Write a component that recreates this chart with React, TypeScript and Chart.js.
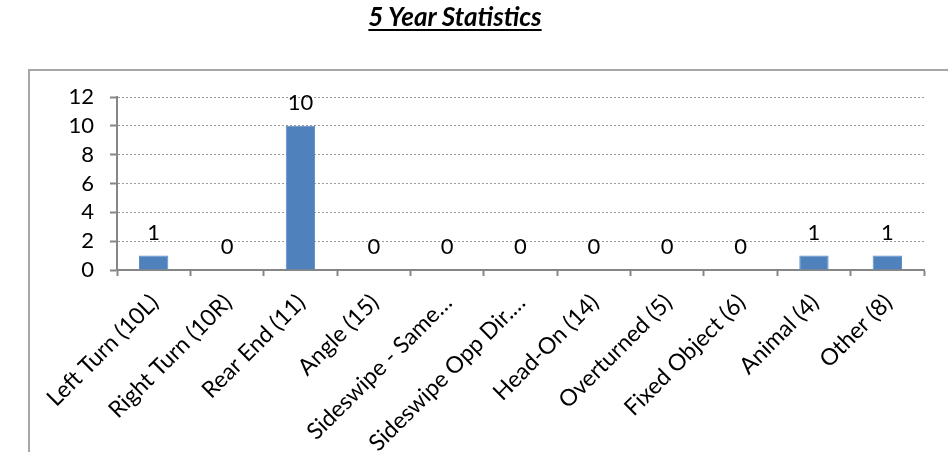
import React, { useEffect, useRef } from "react";
import { Chart, registerables } from "chart.js";

Chart.register(...registerables);

const titleText = "5 Year Statistics";
const categories = [
  "Left Turn (10L)",
  "Right Turn (10R)",
  "Rear End (11)",
  "Angle (15)",
  "Sideswipe - Same…",
  "Sideswipe Opp Dir.…",
  "Head-On (14)",
  "Overturned (5)",
  "Fixed Object (6)",
  "Animal (4)",
  "Other (8)",
];
const counts = [1, 0, 10, 0, 0, 0, 0, 0, 0, 1, 1];
const yMax = 12;
const yStep = 2;

const FONT = "Lato, 'Open Sans', sans-serif";

const valueLabels = {
  id: "valueLabels",
  afterDatasetsDraw(chart: any) {
    const ctx = chart.ctx;
    const meta = chart.getDatasetMeta(0);
    ctx.save();
    ctx.font = `22px ${FONT}`;
    ctx.fillStyle = "#000";
    ctx.textAlign = "center";
    ctx.textBaseline = "middle";
    meta.data.forEach((el: any, i: number) => {
      ctx.fillText(String(chart.data.datasets[0].data[i]), el.x, el.y - 23);
    });
    ctx.restore();
  },
};

export default function App() {
  const ref = useRef<HTMLCanvasElement | null>(null);
  useEffect(() => {
    if (!ref.current) return;
    const chart = new Chart(ref.current, {
      type: "bar",
      data: {
        labels: categories,
        datasets: [
          {
            data: counts,
            backgroundColor: "#4F81BD",
            borderColor: "#5B8CC6",
            borderWidth: 1,
            categoryPercentage: 1,
            barPercentage: 0.4,
          },
        ],
      },
      options: {
        animation: false,
        responsive: false,
        layout: { padding: { top: 97, right: 24, left: 0, bottom: 0 } },
        plugins: {
          legend: { display: false },
          title: { display: false },
          tooltip: { enabled: false },
        },
        scales: {
          x: {
            offset: true,
            grid: {
              display: true,
              drawOnChartArea: false,
              drawTicks: true,
              tickLength: 6,
              tickColor: "#868686",
              tickWidth: 2,
              offset: true,
            },
            border: { display: true, color: "#868686", width: 2 },
            ticks: {
              color: "#000",
              font: { family: FONT, size: 23 },
              maxRotation: 45,
              minRotation: 45,
              autoSkip: false,
              padding: 13,
              labelOffset: 1,
            },
            afterFit(scale: any) {
              scale.height = 182;
            },
          },
          y: {
            min: 0,
            max: yMax,
            ticks: {
              stepSize: yStep,
              autoSkip: false,
              color: "#000",
              font: { family: FONT, size: 22, lineHeight: 1 },
              padding: 16,
            },
            grid: {
              color: "#9a9a9a",
              lineWidth: 1,
              tickLength: 7,
              tickColor: "#868686",
              tickWidth: 2,
              tickBorderDash: [],
            },
            border: { display: true, color: "#868686", width: 2, dash: [2, 2] },
            afterFit(scale: any) {
              scale.width = 117;
            },
          },
        },
      },
      plugins: [valueLabels],
    });
    return () => chart.destroy();
  }, []);

  return (
    <div
      style={{
        position: "fixed",
        left: 0,
        top: 0,
        width: 948,
        height: 452,
        overflow: "hidden",
        background: "#fff",
      }}
    >
      <div
        style={{
          position: "absolute",
          left: 28,
          top: 69,
          width: 1000,
          height: 500,
          border: "2px solid #a6a6a6",
        }}
      />
      <canvas
        ref={ref}
        width={948}
        height={452}
        style={{ position: "absolute", left: 0, top: 0, width: 948, height: 452 }}
      />
      <div
        style={{
          position: "absolute",
          left: 0,
          top: 3,
          width: 910,
          textAlign: "center",
          fontFamily: "Lato, sans-serif",
          fontWeight: 700,
          fontStyle: "italic",
          fontSize: 26,
          lineHeight: "26px",
          color: "#000",
          textDecoration: "underline",
          textDecorationThickness: "2px",
          textUnderlineOffset: "3px",
        }}
      >
        {titleText}
      </div>
    </div>
  );
}
